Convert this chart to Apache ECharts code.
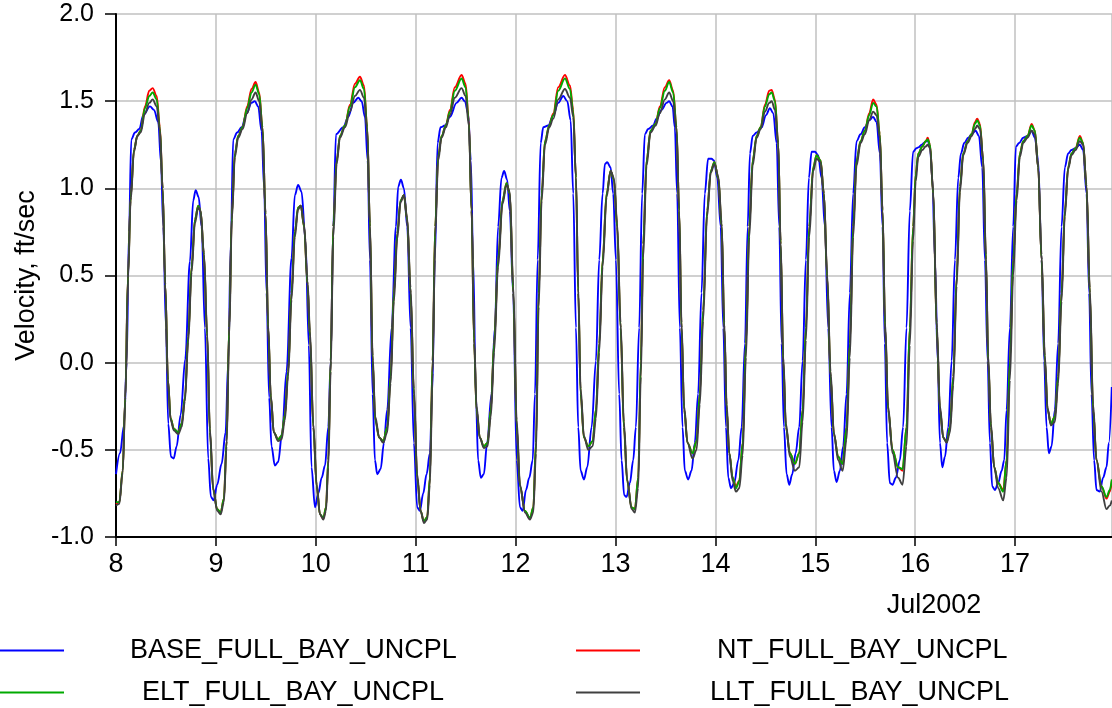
<!DOCTYPE html>
<html>
<head>
<meta charset="utf-8">
<script src="https://cdn.jsdelivr.net/npm/echarts@6/dist/echarts.min.js"></script>
<style>
html,body{margin:0;padding:0;background:#fff;}
#chart{width:1112px;height:708px;}
</style>
</head>
<body>
<div id="chart"></div>
<script>
// ---------- DATA (time in days of July 2002, velocity in ft/sec) ----------
const seriesNames = ['BASE_FULL_BAY_UNCPL', 'NT_FULL_BAY_UNCPL', 'ELT_FULL_BAY_UNCPL', 'LLT_FULL_BAY_UNCPL'];
const monthLabel = 'Jul2002';
const yAxisTitle = 'Velocity, ft/sec';

const baseTime = [
8.000,8.040,8.080,8.107,8.130,8.153,8.190,8.233,8.273,8.340,8.380,8.423,8.450,8.473,8.500,8.523,8.550,8.577,8.607,8.647,8.693,8.740,8.773,8.797,8.827,8.857,8.890,8.923,8.950,8.977,
9.013,9.057,9.097,9.123,9.150,9.173,9.213,9.257,9.307,9.357,9.390,9.423,9.457,9.483,9.507,9.533,9.557,9.590,9.623,9.663,9.707,9.757,9.790,9.823,9.857,9.897,9.930,9.957,9.992,
10.025,10.059,10.092,10.125,10.149,10.175,10.202,10.275,10.325,10.375,10.425,10.459,10.492,10.519,10.542,10.569,10.592,10.615,10.649,10.682,10.715,10.759,10.802,10.825,10.852,10.882,10.915,10.949,10.982,
11.015,11.042,11.075,11.109,11.142,11.165,11.192,11.219,11.249,11.292,11.342,11.409,11.459,11.492,11.525,11.552,11.575,11.602,11.625,11.652,11.682,11.715,11.759,11.792,11.825,11.859,11.885,11.915,11.942,11.975,
12.011,12.044,12.071,12.104,12.137,12.171,12.194,12.221,12.251,12.277,12.327,12.377,12.427,12.477,12.517,12.551,12.577,12.604,12.627,12.651,12.684,12.717,12.761,12.804,12.837,12.871,12.894,12.917,12.951,12.977,
13.004,13.037,13.061,13.087,13.111,13.144,13.177,13.204,13.237,13.267,13.294,13.327,13.377,13.411,13.461,13.511,13.537,13.571,13.594,13.617,13.644,13.671,13.694,13.727,13.761,13.794,13.827,13.861,13.894,13.927,13.961,13.986,
14.019,14.053,14.079,14.106,14.129,14.156,14.189,14.229,14.263,14.296,14.323,14.346,14.373,14.413,14.463,14.506,14.546,14.579,14.613,14.639,14.663,14.686,14.713,14.739,14.769,14.803,14.839,14.873,14.906,14.936,14.963,14.996,
15.029,15.063,15.096,15.129,15.163,15.186,15.213,15.246,15.279,15.313,15.346,15.379,15.413,15.453,15.496,15.539,15.579,15.613,15.646,15.673,15.696,15.719,15.746,15.773,15.806,15.846,15.879,15.913,15.946,15.979,
16.013,16.031,16.065,16.098,16.125,16.148,16.171,16.198,16.225,16.248,16.271,16.298,16.331,16.365,16.398,16.431,16.458,16.491,16.531,16.565,16.605,16.638,16.671,16.698,16.725,16.748,16.771,16.798,16.831,16.865,16.891,16.915,16.948,16.981,
17.008,17.041,17.081,17.125,17.165,17.198,17.231,17.265,17.291,17.315,17.338,17.365,17.398,17.431,17.465,17.498,17.531,17.565,17.605,17.648,17.681,17.715,17.741,17.765,17.791,17.815,17.848,17.881,17.915,17.938,17.968
];
const baseVel = [
-0.64,-0.52,-0.36,0.00,0.75,1.28,1.32,1.34,1.42,1.47,1.45,1.38,1.15,0.78,0.20,-0.35,-0.54,-0.55,-0.48,-0.30,0.02,0.58,0.93,0.99,0.95,0.78,0.20,-0.55,-0.77,-0.79,
-0.70,-0.58,-0.40,0.00,0.70,1.28,1.32,1.35,1.43,1.49,1.50,1.47,1.33,1.00,0.40,-0.20,-0.48,-0.59,-0.57,-0.40,-0.05,0.60,0.96,1.02,0.98,0.70,0.10,-0.60,-0.83,
-0.75,-0.66,-0.59,-0.37,0.01,0.78,1.31,1.35,1.41,1.49,1.52,1.50,1.41,1.16,0.59,-0.18,-0.56,-0.64,-0.61,-0.46,-0.27,0.20,0.78,1.01,1.05,1.00,0.78,0.20,-0.46,
-0.83,-0.85,-0.75,-0.64,-0.52,-0.18,0.59,1.26,1.35,1.36,1.41,1.49,1.52,1.50,1.43,1.16,0.59,-0.18,-0.56,-0.66,-0.64,-0.46,-0.18,0.20,0.78,1.06,1.10,1.05,0.87,0.40,
-0.56,-0.83,-0.85,-0.73,-0.66,-0.56,-0.18,0.59,1.26,1.35,1.36,1.42,1.49,1.53,1.50,1.39,0.97,0.20,-0.37,-0.62,-0.67,-0.60,-0.37,0.01,0.59,0.97,1.14,1.15,1.12,0.97,
0.59,-0.18,-0.56,-0.76,-0.77,-0.69,-0.56,-0.37,0.20,0.97,1.31,1.34,1.36,1.40,1.45,1.49,1.50,1.47,1.35,0.97,0.20,-0.37,-0.62,-0.67,-0.62,-0.46,-0.18,0.40,0.97,1.17,1.17,1.16,
1.06,0.78,0.20,-0.37,-0.66,-0.72,-0.69,-0.56,-0.37,0.11,0.78,1.20,1.30,1.32,1.35,1.42,1.46,1.43,1.26,0.78,0.11,-0.37,-0.64,-0.70,-0.64,-0.52,-0.37,0.01,0.59,1.06,1.21,1.21,
1.19,1.06,0.78,0.20,-0.37,-0.62,-0.685,-0.62,-0.48,-0.18,0.40,0.97,1.27,1.31,1.35,1.39,1.41,1.38,1.20,0.78,0.11,-0.46,-0.69,-0.70,-0.66,-0.56,-0.37,0.20,0.87,1.21,
1.23,1.235,1.25,1.265,1.275,1.24,1.06,0.59,0.01,-0.46,-0.60,-0.54,-0.37,0.01,0.59,1.06,1.20,1.26,1.29,1.31,1.33,1.30,1.12,0.59,0.01,-0.46,-0.71,-0.73,-0.69,-0.62,-0.56,-0.27,0.20,0.78,
1.24,1.26,1.29,1.30,1.33,1.29,1.16,0.59,0.01,-0.37,-0.52,-0.48,-0.27,0.11,0.78,1.12,1.20,1.22,1.23,1.25,1.22,0.97,0.40,-0.18,-0.56,-0.73,-0.74,-0.66,-0.60,-0.46,-0.14
];

const altTime = [
8.000,8.033,8.067,8.093,8.120,8.147,8.180,8.213,8.247,8.290,8.333,8.367,8.407,8.440,8.467,8.493,8.520,8.547,8.580,8.623,8.657,8.690,8.723,8.757,8.790,8.823,8.847,8.880,8.913,8.940,8.973,
9.013,9.047,9.080,9.107,9.133,9.160,9.190,9.223,9.267,9.313,9.357,9.397,9.433,9.467,9.497,9.523,9.550,9.580,9.623,9.657,9.690,9.723,9.757,9.790,9.823,9.850,9.883,9.917,9.942,9.975,
10.009,10.042,10.075,10.102,10.125,10.149,10.175,10.209,10.242,10.292,10.342,10.392,10.442,10.482,10.515,10.542,10.569,10.595,10.635,10.675,10.715,10.749,10.782,10.815,10.849,10.882,10.915,10.949,10.982,
11.015,11.049,11.082,11.115,11.142,11.169,11.195,11.225,11.259,11.302,11.342,11.392,11.459,11.499,11.532,11.559,11.585,11.609,11.642,11.682,11.719,11.752,11.785,11.825,11.869,11.909,11.942,11.977,
12.011,12.044,12.094,12.144,12.177,12.204,12.231,12.261,12.294,12.337,12.377,12.427,12.494,12.544,12.577,12.604,12.627,12.651,12.684,12.727,12.771,12.804,12.837,12.871,12.911,12.951,12.984,
13.017,13.051,13.084,13.117,13.161,13.194,13.227,13.254,13.277,13.311,13.351,13.401,13.444,13.494,13.537,13.577,13.611,13.637,13.661,13.687,13.721,13.771,13.811,13.844,13.877,13.917,13.954,13.990,
14.029,14.063,14.089,14.113,14.139,14.173,14.206,14.239,14.273,14.306,14.339,14.373,14.413,14.453,14.496,14.539,14.563,14.596,14.629,14.653,14.679,14.706,14.746,14.796,14.839,14.873,14.906,14.939,14.979,
15.013,15.053,15.086,15.119,15.153,15.186,15.229,15.273,15.313,15.346,15.379,15.413,15.453,15.496,15.539,15.579,15.613,15.646,15.673,15.699,15.729,15.773,15.829,15.873,15.913,15.946,15.979,
16.005,16.031,16.071,16.105,16.125,16.148,16.181,16.215,16.248,16.281,16.315,16.348,16.381,16.415,16.448,16.481,16.525,16.565,16.598,16.621,16.648,16.681,16.708,16.731,16.758,16.791,16.831,16.881,16.915,16.948,16.981,
17.015,17.048,17.081,17.125,17.165,17.198,17.231,17.265,17.298,17.325,17.358,17.398,17.431,17.465,17.498,17.531,17.565,17.605,17.648,17.681,17.715,17.748,17.781,17.815,17.865,17.915,17.948,17.968
];
const ntVel = [
-0.81,-0.80,-0.62,-0.20,0.50,0.95,1.22,1.30,1.33,1.47,1.56,1.575,1.53,1.35,1.00,0.45,-0.10,-0.32,-0.38,-0.40,-0.35,-0.20,0.15,0.55,0.82,0.90,0.87,0.62,0.15,-0.40,-0.73,
-0.84,-0.86,-0.78,-0.45,0.20,0.85,1.20,1.30,1.35,1.47,1.57,1.61,1.55,1.35,0.85,0.20,-0.20,-0.40,-0.44,-0.42,-0.30,-0.05,0.40,0.75,0.89,0.90,0.78,0.45,0.15,-0.37,
-0.71,-0.87,-0.895,-0.83,-0.56,0.01,0.78,1.16,1.30,1.36,1.48,1.60,1.64,1.59,1.35,0.78,0.01,-0.33,-0.43,-0.45,-0.37,-0.08,0.40,0.74,0.93,0.96,0.82,0.40,-0.18,
-0.66,-0.85,-0.91,-0.885,-0.66,0.01,0.78,1.18,1.30,1.36,1.45,1.58,1.65,1.60,1.39,0.87,0.11,-0.27,-0.43,-0.48,-0.46,-0.27,0.11,0.59,0.93,1.03,0.97,0.40,
-0.37,-0.71,-0.85,-0.895,-0.83,-0.46,0.40,0.97,1.27,1.36,1.43,1.58,1.65,1.59,1.45,1.06,0.40,-0.18,-0.43,-0.48,-0.45,-0.27,0.11,0.59,0.97,1.10,1.05,
0.78,0.20,-0.37,-0.68,-0.83,-0.84,-0.66,0.01,0.68,1.16,1.33,1.37,1.47,1.58,1.62,1.56,1.35,0.87,0.20,-0.27,-0.46,-0.52,-0.45,-0.18,0.30,0.87,1.10,1.15,
1.06,0.78,0.20,-0.27,-0.52,-0.66,-0.71,-0.675,-0.46,0.11,0.78,1.16,1.30,1.35,1.48,1.56,1.565,1.51,1.26,0.68,0.01,-0.37,-0.52,-0.58,-0.52,-0.27,0.20,0.78,1.12,
1.19,1.16,0.97,0.49,-0.08,-0.41,-0.54,-0.58,-0.37,0.11,0.78,1.16,1.27,1.33,1.43,1.51,1.48,1.31,0.87,0.20,-0.27,-0.50,-0.60,-0.62,-0.37,0.20,0.78,
1.08,1.20,1.24,1.27,1.29,1.25,0.97,0.20,-0.27,-0.43,-0.455,-0.37,-0.08,0.49,1.01,1.20,1.27,1.31,1.38,1.40,1.37,1.16,0.59,0.01,-0.37,-0.60,-0.69,-0.73,-0.56,0.01,0.59,
0.97,1.20,1.27,1.30,1.37,1.33,1.12,0.59,0.01,-0.27,-0.35,-0.31,-0.08,0.40,0.87,1.12,1.20,1.23,1.30,1.26,1.01,0.40,-0.27,-0.56,-0.71,-0.78,-0.74,-0.68
];
const eltVel = [
-0.80,-0.80,-0.62,-0.20,0.50,0.95,1.22,1.30,1.33,1.46,1.53,1.55,1.51,1.34,1.00,0.45,-0.10,-0.32,-0.38,-0.40,-0.35,-0.20,0.15,0.55,0.82,0.90,0.87,0.62,0.15,-0.40,-0.73,
-0.84,-0.86,-0.78,-0.45,0.20,0.85,1.20,1.30,1.35,1.46,1.55,1.595,1.54,1.35,0.85,0.20,-0.20,-0.40,-0.44,-0.42,-0.30,-0.05,0.40,0.75,0.89,0.90,0.78,0.45,0.15,-0.37,
-0.71,-0.87,-0.89,-0.83,-0.56,0.01,0.78,1.16,1.30,1.36,1.47,1.58,1.62,1.57,1.35,0.78,0.01,-0.33,-0.43,-0.45,-0.37,-0.08,0.40,0.74,0.93,0.96,0.82,0.40,-0.18,
-0.66,-0.85,-0.91,-0.885,-0.66,0.01,0.78,1.18,1.30,1.36,1.44,1.56,1.63,1.58,1.38,0.87,0.11,-0.27,-0.43,-0.48,-0.46,-0.27,0.11,0.59,0.93,1.03,0.97,0.40,
-0.37,-0.71,-0.85,-0.89,-0.83,-0.46,0.40,0.97,1.27,1.36,1.42,1.56,1.63,1.57,1.44,1.06,0.40,-0.18,-0.43,-0.48,-0.45,-0.27,0.11,0.59,0.97,1.10,1.05,
0.78,0.20,-0.37,-0.68,-0.83,-0.84,-0.66,0.01,0.68,1.16,1.33,1.37,1.46,1.56,1.61,1.55,1.35,0.87,0.20,-0.27,-0.46,-0.52,-0.45,-0.18,0.30,0.87,1.10,1.15,
1.06,0.78,0.20,-0.27,-0.52,-0.66,-0.72,-0.68,-0.46,0.11,0.78,1.16,1.30,1.35,1.47,1.54,1.55,1.50,1.26,0.68,0.01,-0.37,-0.52,-0.58,-0.52,-0.27,0.20,0.78,1.12,
1.19,1.16,0.97,0.49,-0.08,-0.41,-0.54,-0.58,-0.37,0.11,0.78,1.16,1.27,1.33,1.42,1.49,1.47,1.31,0.87,0.20,-0.27,-0.50,-0.60,-0.61,-0.37,0.20,0.78,
1.08,1.20,1.24,1.27,1.28,1.25,0.97,0.20,-0.27,-0.43,-0.455,-0.37,-0.08,0.49,1.01,1.20,1.27,1.31,1.37,1.39,1.36,1.16,0.59,0.01,-0.37,-0.60,-0.69,-0.74,-0.56,0.01,0.59,
0.97,1.20,1.27,1.30,1.36,1.33,1.12,0.59,0.01,-0.27,-0.35,-0.31,-0.08,0.40,0.87,1.12,1.20,1.23,1.29,1.26,1.01,0.40,-0.27,-0.56,-0.71,-0.77,-0.73,-0.67
];
const lltVel = [
-0.82,-0.81,-0.63,-0.22,0.48,0.93,1.21,1.30,1.32,1.43,1.49,1.51,1.47,1.33,1.00,0.45,-0.10,-0.33,-0.39,-0.41,-0.37,-0.22,0.12,0.52,0.80,0.89,0.87,0.63,0.17,-0.38,-0.72,
-0.85,-0.87,-0.80,-0.48,0.15,0.82,1.18,1.29,1.34,1.43,1.51,1.55,1.50,1.33,0.86,0.22,-0.19,-0.40,-0.45,-0.44,-0.33,-0.08,0.36,0.72,0.88,0.90,0.79,0.47,0.18,-0.35,
-0.70,-0.87,-0.90,-0.85,-0.60,-0.05,0.72,1.14,1.29,1.35,1.44,1.53,1.565,1.52,1.33,0.80,0.04,-0.31,-0.43,-0.46,-0.40,-0.12,0.35,0.71,0.92,0.96,0.83,0.43,-0.15,
-0.64,-0.85,-0.92,-0.90,-0.70,-0.06,0.72,1.16,1.29,1.35,1.42,1.52,1.575,1.53,1.36,0.88,0.14,-0.25,-0.43,-0.49,-0.48,-0.31,0.06,0.55,0.91,1.02,0.98,0.44,
-0.33,-0.70,-0.86,-0.90,-0.86,-0.52,0.32,0.93,1.25,1.35,1.40,1.51,1.57,1.52,1.41,1.07,0.43,-0.15,-0.42,-0.50,-0.48,-0.32,0.06,0.55,0.95,1.10,1.06,
0.80,0.23,-0.34,-0.67,-0.84,-0.86,-0.72,-0.08,0.60,1.13,1.32,1.36,1.43,1.51,1.55,1.50,1.33,0.88,0.23,-0.25,-0.46,-0.55,-0.50,-0.24,0.24,0.84,1.09,1.14,
1.07,0.80,0.23,-0.24,-0.52,-0.68,-0.74,-0.72,-0.53,0.03,0.72,1.13,1.29,1.34,1.44,1.49,1.50,1.45,1.25,0.70,0.04,-0.35,-0.54,-0.62,-0.60,-0.34,0.13,0.72,1.10,
1.17,1.15,0.97,0.51,-0.05,-0.40,-0.56,-0.62,-0.44,0.03,0.72,1.13,1.26,1.31,1.39,1.44,1.42,1.29,0.88,0.23,-0.25,-0.52,-0.66,-0.70,-0.48,0.10,0.70,
1.04,1.18,1.22,1.24,1.25,1.23,0.98,0.23,-0.25,-0.43,-0.46,-0.40,-0.13,0.44,0.98,1.19,1.26,1.30,1.34,1.36,1.34,1.17,0.62,0.04,-0.35,-0.60,-0.72,-0.79,-0.66,-0.10,0.50,
0.93,1.18,1.26,1.29,1.33,1.31,1.12,0.62,0.04,-0.26,-0.36,-0.34,-0.12,0.35,0.84,1.11,1.19,1.22,1.27,1.25,1.02,0.43,-0.24,-0.56,-0.74,-0.84,-0.82,-0.79
];

// ---------- CHART ----------
const FONT = 'Liberation Sans, Arial, Helvetica, sans-serif';
const zip = (t, v) => t.map((x, i) => [x, v[i]]);
const colors = ['#0000ff', '#ff0000', '#00aa00', '#404040'];
const seriesData = [zip(baseTime, baseVel), zip(altTime, ntVel), zip(altTime, eltVel), zip(altTime, lltVel)];

const legendSpec = [
  {left: 0, top: 637, pad: 61},
  {left: 576, top: 637, pad: 72},
  {left: 0, top: 679, pad: 73},
  {left: 576, top: 679, pad: 65}
];

const chart = echarts.init(document.getElementById('chart'), null, {renderer: 'canvas'});
chart.setOption({
  animation: false,
  backgroundColor: '#ffffff',
  grid: {left: 116, right: 0, top: 14, bottom: 171, containLabel: false},
  legend: seriesNames.map((n, i) => ({
    data: [n], left: legendSpec[i].left, top: legendSpec[i].top, padding: 0,
    icon: 'rect', itemWidth: 64, itemHeight: 2, selectedMode: false,
    textStyle: {fontFamily: FONT, fontSize: 27, color: '#000', padding: [0, 0, 0, legendSpec[i].pad]}
  })),
  xAxis: {
    type: 'value', min: 8, max: 17.97, interval: 1,
    axisLine: {show: true, onZero: false, lineStyle: {color: '#000', width: 2}},
    axisTick: {show: true, length: 9, lineStyle: {color: '#000', width: 1.5}},
    axisLabel: {fontFamily: FONT, fontSize: 27, color: '#000', margin: 14, showMaxLabel: false,
      formatter: v => String(Math.round(v))},
    splitLine: {show: true, lineStyle: {color: '#c0c0c0', width: 1.5}}
  },
  yAxis: {
    type: 'value', min: -1, max: 2, interval: 0.5,
    name: yAxisTitle, nameLocation: 'middle', nameGap: 72,
    nameTextStyle: {fontFamily: FONT, fontSize: 27, color: '#000'},
    axisLine: {show: true, lineStyle: {color: '#000', width: 2}},
    axisTick: {show: true, length: 11, lineStyle: {color: '#000', width: 1.5}},
    axisLabel: {fontFamily: FONT, fontSize: 25, color: '#000', margin: 22, formatter: v => v.toFixed(1)},
    splitLine: {show: true, lineStyle: {color: '#c0c0c0', width: 1.5}}
  },
  graphic: [{
    type: 'text', x: 934, y: 606,
    style: {text: monthLabel, fontFamily: FONT, fontSize: 27, fill: '#000', align: 'center', verticalAlign: 'middle'}
  }],
  series: seriesNames.map((n, i) => ({
    name: n, type: 'line', data: seriesData[i], showSymbol: false, smooth: 0.35,
    smoothMonotone: 'x', clip: true,
    lineStyle: {color: colors[i], width: 1.9}, itemStyle: {color: colors[i]}, z: 2 + i
  }))
});
</script>
</body>
</html>
